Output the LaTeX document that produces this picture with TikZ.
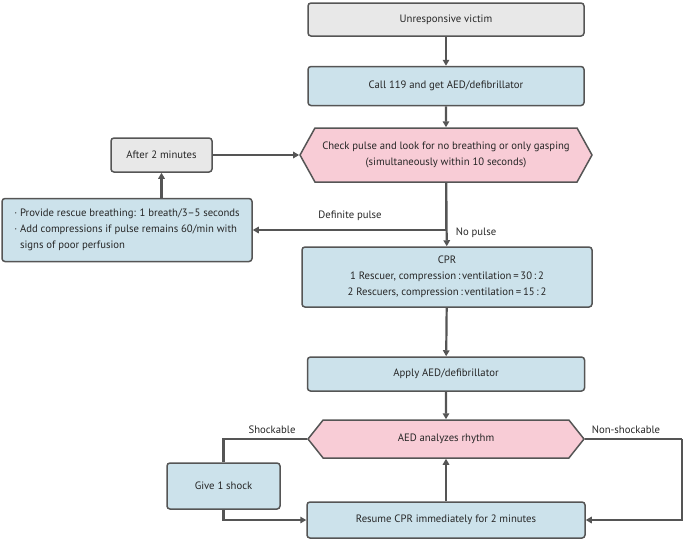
\documentclass[tikz,border=0pt]{standalone}
\usepackage{fontspec}
\setmainfont{PT Sans}
\usetikzlibrary{arrows.meta,shapes.symbols}
\definecolor{boxgray}{HTML}{E8E8E8}
\definecolor{boxblue}{HTML}{CCE2EB}
\definecolor{boxpink}{HTML}{F8CCD6}
\definecolor{linegray}{HTML}{555555}
\begin{document}
\begin{tikzpicture}[x=1pt,y=-1pt,
    font=\fontsize{10.7}{15.8}\selectfont,text=black!85,
    base/.style={draw=linegray,line width=1.5pt,rounded corners=3pt,inner sep=2pt,align=center},
    graybox/.style={base,fill=boxgray},
    bluebox/.style={base,fill=boxblue},
    hexbox/.style={draw=linegray,line width=1.5pt,fill=boxpink,shape=signal,
        signal to=west and east,align=center,inner sep=2pt},
    arr/.style={draw=linegray,line width=2.2pt,-{Triangle[length=6pt,width=6.5pt]}},
    ln/.style={draw=linegray,line width=2.2pt}]
    \useasboundingbox (0,0) rectangle (685,542);

    \node[graybox,minimum width=276pt,minimum height=33pt] (victim) at (446,19.5) {Unresponsive victim};
    \node[bluebox,minimum width=276pt,minimum height=39pt] (call) at (446,86) {Call 119 and get AED/defibrillator};
    \node[hexbox,signal pointer angle=122,minimum width=292pt,minimum height=54pt] (check) at (446,155)
        {Check pulse and look for no breathing or only gasping\\(simultaneously within 10 seconds)};
    \node[graybox,minimum width=101pt,minimum height=34pt] (after) at (161.5,155) {After 2 minutes};
    \node[bluebox,align=left,minimum width=250pt,minimum height=63pt] (rescue) at (127,230)
        {· Provide rescue breathing: 1 breath/3--5 seconds\\
         · Add compressions if pulse remains 60/min with\\
         \phantom{· }signs of poor perfusion};
    \node[bluebox,minimum width=290pt,minimum height=60pt] (cpr) at (447,277)
        {CPR\\1 Rescuer, compression\,:\,ventilation\,=\,30\,:\,2\\2 Rescuers, compression\,:\,ventilation\,=\,15\,:\,2};
    \node[bluebox,minimum width=277pt,minimum height=34pt] (apply) at (446,374) {Apply AED/defibrillator};
    \node[hexbox,signal pointer angle=103,minimum width=276pt,minimum height=38pt] (aed) at (446,439) {AED analyzes rhythm};
    \node[bluebox,minimum width=113pt,minimum height=46pt] (shock) at (223.5,486) {Give 1 shock};
    \node[bluebox,minimum width=278pt,minimum height=36pt] (resume) at (446,520) {Resume CPR immediately for 2 minutes};
    \coordinate (nsturn) at (682,439);

    \node (defpulse) at (350,216) {Definite pulse};
    \node (nopulse) at (476,233) {No pulse};
    \node (shk) at (272,430) {Shockable};
    \node (nonshk) at (626,430) {Non-shockable};

    \draw[arr] (victim) -- (call);
    \draw[arr] (call) -- (check);
    \draw[arr] (check) -- (cpr);
    \draw[arr] (check.south) |- (rescue.east);
    \draw[arr] (rescue.north -| after.south) -- (after.south);
    \draw[arr] (after.east) -- (check.west);
    \draw[arr] (cpr) -- (apply);
    \draw[arr] (apply) -- (aed);
    \draw[ln] (aed.west) -| (shock.north);
    \draw[arr] (shock.south) |- (resume.west);
    \draw[ln] (aed.east) -- (nsturn);
    \draw[arr] (nsturn) |- (resume.east);
    \draw[arr] (resume) -- (aed);
\end{tikzpicture}
\end{document}
